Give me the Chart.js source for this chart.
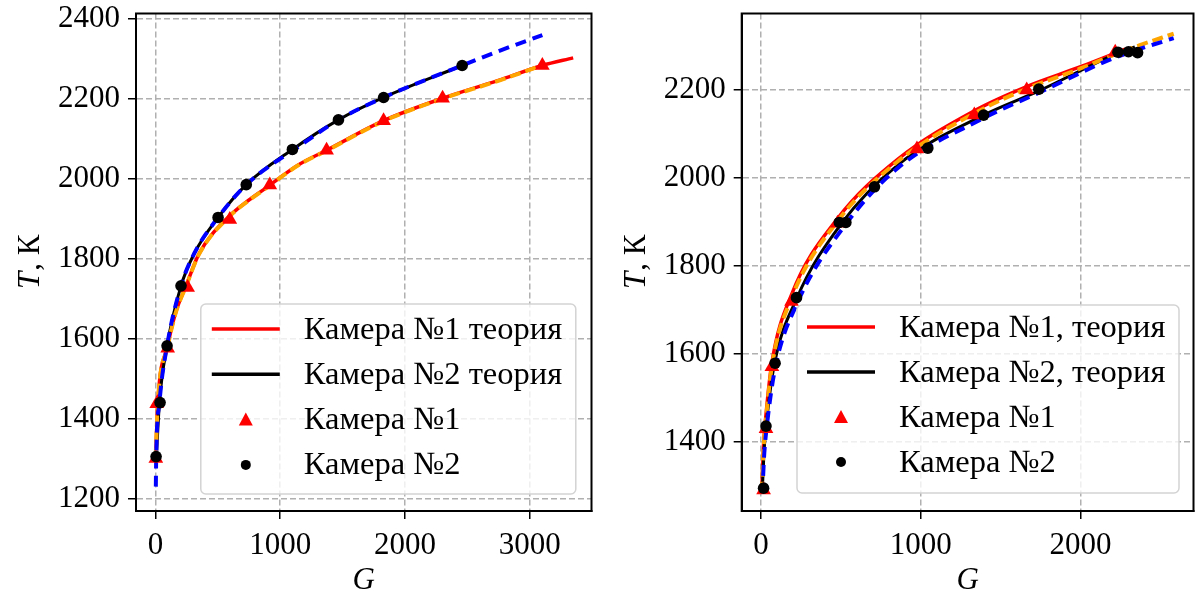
<!DOCTYPE html>
<html><head><meta charset="utf-8">
<script src="https://cdn.jsdelivr.net/npm/chart.js@4.4.1/dist/chart.umd.min.js"></script>
<style>html,body{margin:0;padding:0;background:#fff;overflow:hidden}canvas{position:absolute;top:0}</style>
</head><body>
<canvas id="left" width="600" height="596" style="left:0;width:600px;height:596px"></canvas>
<canvas id="right" width="602" height="596" style="left:600px;width:602px;height:596px"></canvas>
<script>
// ---- tick labels ----
const xTicksLeft = [0, 1000, 2000, 3000];
const yTicksLeft = [1200, 1400, 1600, 1800, 2000, 2200, 2400];
const xTicksRight = [0, 1000, 2000];
const yTicksRight = [1400, 1600, 1800, 2000, 2200];

// ---- legend labels ----
const legendLeft = ['Камера №1 теория', 'Камера №2 теория', 'Камера №1', 'Камера №2'];
const legendRight = ['Камера №1, теория', 'Камера №2, теория', 'Камера №1', 'Камера №2'];

// ---- left panel data ----
const L_cam1_G = [3, 10, 98, 258, 596, 917, 1372, 1829, 2302, 3102];
const L_cam1_T = [1300, 1437, 1576, 1728, 1898, 1984, 2071, 2145, 2201, 2283];
const L_cam2_G = [5, 37, 93, 205, 502, 728, 1098, 1467, 1829, 2459];
const L_cam2_T = [1305, 1440, 1582, 1732, 1903, 1985, 2073, 2147, 2203, 2283];
const L_th1_G = [1, 19, 98, 160, 245, 351, 564, 917, 1148, 1372, 1829, 2302, 2743, 3102, 3349];
const L_th1_T = [1295, 1440, 1582, 1663, 1732, 1813, 1898, 1984, 2035, 2071, 2145, 2201, 2245, 2283, 2302];
const L_fit1_G = [1, 19, 98, 160, 245, 351, 564, 917, 1148, 1372, 1829, 2302, 2743, 3090];
const L_fit1_T = [1300, 1440, 1580, 1662, 1731, 1812, 1897, 1983, 2034, 2070, 2144, 2200, 2244, 2282];
const L_th2_G = [5, 32, 93, 205, 311, 502, 728, 1098, 1467, 1829, 2459];
const L_th2_T = [1290, 1440, 1582, 1732, 1813, 1903, 1985, 2073, 2147, 2203, 2283];
const L_fit2_G = [3, 6, 32, 93, 205, 311, 502, 728, 1148, 1467, 1829, 2459, 2743, 3102];
const L_fit2_T = [1230, 1305, 1440, 1582, 1732, 1813, 1903, 1985, 2080, 2147, 2203, 2283, 2318, 2359];

// ---- right panel data ----
const R_cam1_G = [16, 31, 68, 191, 479, 976, 1335, 1663, 2217];
const R_cam1_T = [1291, 1430, 1571, 1719, 1897, 2066, 2143, 2200, 2286];
const R_cam2_G = [16, 31, 88, 222, 490, 531, 710, 1044, 1393, 1739, 2234, 2300, 2357];
const R_cam2_T = [1295, 1436, 1579, 1728, 1899, 1899, 1980, 2068, 2143, 2202, 2286, 2287, 2285];
const R_th1_G = [5, 16, 31, 68, 191, 479, 857, 1335, 1663, 2000, 2280];
const R_th1_T = [1290, 1395, 1462, 1580, 1735, 1908, 2043, 2153, 2208, 2253, 2293];
const R_fit1_G = [5, 16, 31, 68, 191, 479, 857, 1335, 1663, 2000, 2217, 2371, 2583];
const R_fit1_T = [1285, 1385, 1452, 1572, 1727, 1902, 2038, 2147, 2203, 2249, 2281, 2302, 2328];
const R_th2_G = [8, 20, 33, 80, 222, 500, 857, 1393, 1739, 2234, 2340];
const R_th2_T = [1290, 1385, 1440, 1570, 1725, 1895, 2030, 2143, 2198, 2284, 2298];
const R_fit2_G = [8, 20, 35, 88, 230, 520, 857, 1393, 1739, 2217, 2583];
const R_fit2_T = [1282, 1372, 1432, 1567, 1718, 1890, 2023, 2136, 2194, 2274, 2318];

const FONT = "'Liberation Serif', 'Times New Roman', serif";
const FS = 31;
const LFS = 32.5;

const pts = (G, T) => G.map((g, i) => ({x: g, y: T[i]}));

function lineDS(G, T, color, width, dash, order) {
  return {data: pts(G, T), showLine: true, borderColor: color, backgroundColor: color,
    borderWidth: width, borderDash: dash, pointRadius: 0, pointHoverRadius: 0,
    cubicInterpolationMode: 'monotone', order: order, borderCapStyle: 'butt'};
}
function markDS(G, T, style, radius, color, order) {
  return {data: pts(G, T), showLine: false, pointStyle: style, pointRadius: radius,
    pointBackgroundColor: color, pointBorderColor: color, pointBorderWidth: 0, order: order};
}

const framePlugin = {
  id: 'frame',
  afterDraw(chart, args, o) {
    const ctx = chart.ctx, a = chart.chartArea;
    ctx.save();
    // legend
    const lg = o.legend;
    const bx = a.right - lg.rightOff - lg.w, by = a.bottom - lg.bottomOff - lg.h;
    ctx.beginPath();
    ctx.roundRect(bx, by, lg.w, lg.h, 5);
    ctx.fillStyle = 'rgba(255,255,255,0.8)';
    ctx.fill();
    ctx.lineWidth = 1.5;
    ctx.strokeStyle = '#d3d3d3';
    ctx.stroke();
    ctx.font = LFS + 'px ' + FONT;
    ctx.textBaseline = 'middle';
    ctx.textAlign = 'left';
    lg.labels.forEach((txt, i) => {
      const y = by + lg.first + i * lg.gap;
      if (i < 2) {
        ctx.beginPath();
        ctx.moveTo(bx + lg.sx0, y); ctx.lineTo(bx + lg.sx1, y);
        ctx.lineWidth = 3.5; ctx.strokeStyle = i === 0 ? '#ff0000' : '#000000';
        ctx.stroke();
      } else if (i === 2) {
        const cx = bx + lg.mx, r = 7;
        ctx.beginPath();
        ctx.moveTo(cx, y - r); ctx.lineTo(cx + r, y + r * 0.85); ctx.lineTo(cx - r, y + r * 0.85);
        ctx.closePath(); ctx.fillStyle = '#ff0000'; ctx.fill();
      } else {
        ctx.beginPath(); ctx.arc(bx + lg.mx, y, 5, 0, Math.PI * 2);
        ctx.fillStyle = '#000'; ctx.fill();
      }
      ctx.fillStyle = '#000';
      ctx.fillText(txt, bx + lg.tx, y + 1);
    });
    // spines
    ctx.lineWidth = 2; ctx.strokeStyle = '#000';
    ctx.strokeRect(a.left, a.top, a.right - a.left, a.bottom - a.top);
    // x title
    ctx.fillStyle = '#000';
    ctx.textAlign = 'center';
    ctx.font = 'italic ' + FS + 'px ' + FONT;
    ctx.fillText('G', (a.left + a.right) / 2, a.bottom + 70);
    // y title
    ctx.save();
    ctx.translate(a.left - 105, (a.top + a.bottom) / 2);
    ctx.rotate(-Math.PI / 2);
    ctx.textAlign = 'left';
    const fi = 'italic ' + FS + 'px ' + FONT, fn = FS + 'px ' + FONT;
    ctx.font = fi; const w1 = ctx.measureText('T').width;
    ctx.font = fn; const w2 = ctx.measureText(', К').width;
    const x0 = -(w1 + w2) / 2;
    ctx.font = fi; ctx.fillText('T', x0, 0);
    ctx.font = fn; ctx.fillText(', К', x0 + w1 + 1, 0);
    ctx.restore();
    ctx.restore();
  }
};

function axis(ticksArr, min, max, fit) {
  return {
    type: 'linear', min: min, max: max,
    afterBuildTicks: s => { s.ticks = ticksArr.map(v => ({value: v})); },
    afterFit: s => { fit(s); s.paddingTop = 0; s.paddingBottom = 0; s.paddingLeft = 0; s.paddingRight = 0; },
    grid: {color: '#b0b0b0', lineWidth: 1.5, tickLength: 8, tickColor: '#000', tickWidth: 1.5, drawTicks: true},
    border: {display: true, color: '#000', width: 2, dash: [6, 3]},
    ticks: {color: '#000', font: {family: FONT, size: FS}, padding: 8, maxRotation: 0, autoSkip: false,
      callback: v => String(v)}
  };
}

function makeChart(id, c) {
  return new Chart(document.getElementById(id), {
    type: 'scatter',
    data: {datasets: c.datasets},
    options: {
      responsive: false, animation: false, devicePixelRatio: 1,
      layout: {padding: {top: 13.5, right: c.padRight, left: 0, bottom: 0}},
      plugins: {legend: {display: false}, tooltip: {enabled: false}, frame: {legend: c.legend}},
      scales: {
        x: axis(c.xTicks, c.xmin, c.xmax, s => { s.height = 85; }),
        y: axis(c.yTicks, c.ymin, c.ymax, s => { s.width = c.yw; })
      }
    },
    plugins: [framePlugin]
  });
}

makeChart('left', {
  xTicks: xTicksLeft, yTicks: yTicksLeft, xmin: -156, xmax: 3496, ymin: 1169, ymax: 2413,
  yw: 136, padRight: 5.3,
  legend: {labels: legendLeft, w: 375, h: 190, rightOff: 15.7, bottomOff: 17, first: 25, gap: 45.3,
    sx0: 11, sx1: 79, mx: 45, tx: 103},
  datasets: [
    lineDS(L_th1_G, L_th1_T, '#ff0000', 3.5, [], 5),
    lineDS(L_th2_G, L_th2_T, '#000000', 3, [], 4),
    lineDS(L_fit1_G, L_fit1_T, '#ffa500', 4, [11, 5], 3),
    lineDS(L_fit2_G, L_fit2_T, '#0000ff', 4, [11, 7], 2),
    markDS(L_cam1_G, L_cam1_T, 'triangle', 8.5, '#ff0000', 1),
    markDS(L_cam2_G, L_cam2_T, 'circle', 5.8, '#000000', 0)
  ]
});

makeChart('right', {
  xTicks: xTicksRight, yTicks: yTicksRight, xmin: -121, xmax: 2707, ymin: 1243, ymax: 2374,
  yw: 141.7, padRight: 2.5,
  legend: {labels: legendRight, w: 382, h: 188, rightOff: 14.5, bottomOff: 18, first: 22, gap: 45,
    sx0: 10, sx1: 78, mx: 44, tx: 102},
  datasets: [
    lineDS(R_th1_G, R_th1_T, '#ff0000', 3.5, [], 5),
    lineDS(R_th2_G, R_th2_T, '#000000', 3, [], 4),
    lineDS(R_fit1_G, R_fit1_T, '#ffa500', 4, [11, 5], 3),
    lineDS(R_fit2_G, R_fit2_T, '#0000ff', 4, [11, 7], 2),
    markDS(R_cam1_G, R_cam1_T, 'triangle', 8.5, '#ff0000', 1),
    markDS(R_cam2_G, R_cam2_T, 'circle', 5.8, '#000000', 0)
  ]
});
</script>
</body></html>
